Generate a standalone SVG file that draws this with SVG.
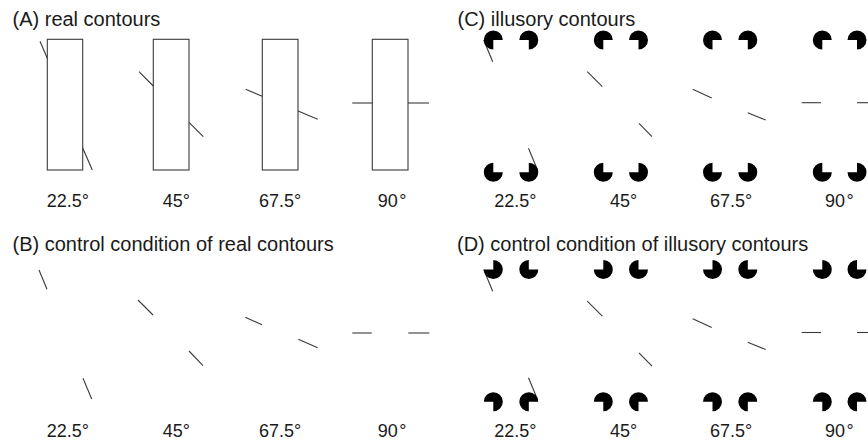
<svg xmlns="http://www.w3.org/2000/svg" xmlns:xlink="http://www.w3.org/1999/xlink" width="868" height="443" viewBox="0 0 868 443">
<style>
.t{font-family:"Liberation Sans",Arial,sans-serif;font-size:20px;fill:#1a1a1a}
.l{font-family:"Liberation Sans",Arial,sans-serif;font-size:18px;fill:#1a1a1a}
.ln{stroke:#3a3a3a;stroke-width:1.1;fill:none}
.rc{stroke:#3a3a3a;stroke-width:1.1;fill:#fff}
.pc{fill:#000}
</style>
<defs>
<path id="pac" class="pc" d="M0,0 L9.5,0 A9.5,9.5 0 1 0 0,9.5 Z"/>
</defs>
<rect width="868" height="443" fill="#fff"/>

<g id="titles">
<text class="t" x="12.5" y="25.5">(A) real contours</text>
<text class="t" x="12.5" y="250.5">(B) control condition of real contours</text>
<text class="t" x="457.5" y="25.5">(C) illusory contours</text>
<text class="t" x="457" y="250.5">(D) control condition of illusory contours</text>
</g>

<g id="panelA">
<g id="A-rects">
<rect class="rc" x="47.3" y="39.3" width="35.4" height="130.7"/>
<rect class="rc" x="153.3" y="39.3" width="35.7" height="130.7"/>
<rect class="rc" x="262.3" y="39.3" width="35.7" height="130.7"/>
<rect class="rc" x="372.3" y="39.3" width="35.7" height="130.7"/>
</g>
<g id="A-lines">
<line class="ln" x1="40" y1="41.3" x2="47.3" y2="58.3"/>
<line class="ln" x1="82.7" y1="148" x2="92.3" y2="170"/>
<line class="ln" x1="139" y1="71.7" x2="153.3" y2="86"/>
<line class="ln" x1="189" y1="122.3" x2="203.3" y2="136.7"/>
<line class="ln" x1="245.7" y1="89.3" x2="262.3" y2="96.3"/>
<line class="ln" x1="298" y1="111" x2="317.7" y2="119.3"/>
<line class="ln" x1="352.3" y1="103" x2="372.3" y2="103"/>
<line class="ln" x1="408" y1="103" x2="429" y2="103"/>
</g>
<g id="A-labels">
<text class="l" x="46.7" y="206.5">22.5°</text>
<text class="l" x="162.7" y="206.5">45°</text>
<text class="l" x="259" y="206.5">67.5°</text>
<text class="l" x="377.7" y="206.5">90<tspan dx="1.5">°</tspan></text>
</g>
</g>

<g id="panelB">
<g id="B-lines">
<line class="ln" x1="39" y1="270" x2="47" y2="289.3"/>
<line class="ln" x1="83" y1="378.3" x2="91.7" y2="399"/>
<line class="ln" x1="138" y1="300" x2="153" y2="315"/>
<line class="ln" x1="189" y1="351" x2="203" y2="365.7"/>
<line class="ln" x1="245.3" y1="317.3" x2="262" y2="324.7"/>
<line class="ln" x1="298.3" y1="339.3" x2="317.7" y2="347.7"/>
<line class="ln" x1="352.3" y1="333" x2="371.7" y2="333"/>
<line class="ln" x1="408.3" y1="333" x2="429.3" y2="333"/>
</g>
<g id="B-labels">
<text class="l" x="46.7" y="437">22.5°</text>
<text class="l" x="162.7" y="437">45°</text>
<text class="l" x="259" y="437">67.5°</text>
<text class="l" x="377.7" y="437">90<tspan dx="1.5">°</tspan></text>
</g>
</g>

<g id="panelC">
<g id="C-lines">
<line class="ln" x1="483.7" y1="40" x2="492.7" y2="61.7"/>
<line class="ln" x1="528.5" y1="148.3" x2="537.5" y2="170"/>
<line class="ln" x1="587.3" y1="71.7" x2="602.3" y2="86.7"/>
<line class="ln" x1="639" y1="123.3" x2="652" y2="136.7"/>
<line class="ln" x1="692.7" y1="89.3" x2="711.7" y2="98"/>
<line class="ln" x1="747.7" y1="112.7" x2="765.7" y2="120"/>
<line class="ln" x1="801.7" y1="102.7" x2="821" y2="102.7"/>
<line class="ln" x1="857" y1="102.7" x2="868" y2="102.7"/>
</g>
<g id="C-pacmen">
<use xlink:href="#pac" transform="translate(493.3,40)"/>
<use xlink:href="#pac" transform="translate(528.8,40) rotate(90)"/>
<use xlink:href="#pac" transform="translate(493.3,172.3) rotate(270)"/>
<use xlink:href="#pac" transform="translate(528.8,172.3) rotate(180)"/>
<use xlink:href="#pac" transform="translate(603.3,40)"/>
<use xlink:href="#pac" transform="translate(638.5,40) rotate(90)"/>
<use xlink:href="#pac" transform="translate(603.3,172.3) rotate(270)"/>
<use xlink:href="#pac" transform="translate(638.5,172.3) rotate(180)"/>
<use xlink:href="#pac" transform="translate(712.5,40)"/>
<use xlink:href="#pac" transform="translate(747.8,40) rotate(90)"/>
<use xlink:href="#pac" transform="translate(712.5,172.3) rotate(270)"/>
<use xlink:href="#pac" transform="translate(747.8,172.3) rotate(180)"/>
<use xlink:href="#pac" transform="translate(822.3,40)"/>
<use xlink:href="#pac" transform="translate(857,40) rotate(90)"/>
<use xlink:href="#pac" transform="translate(822.3,172.3) rotate(270)"/>
<use xlink:href="#pac" transform="translate(857,172.3) rotate(180)"/>
</g>
<g id="C-labels">
<text class="l" x="494.3" y="206.5">22.5°</text>
<text class="l" x="610" y="206.5">45°</text>
<text class="l" x="710" y="206.5">67.5°</text>
<text class="l" x="825" y="206.5">90<tspan dx="1.5">°</tspan></text>
</g>
</g>

<g id="panelD">
<g id="D-lines">
<line class="ln" x1="483.7" y1="269.5" x2="492.7" y2="291.2"/>
<line class="ln" x1="528.5" y1="377.8" x2="537.5" y2="399.5"/>
<line class="ln" x1="587.3" y1="301.2" x2="602.3" y2="316.2"/>
<line class="ln" x1="639" y1="352.8" x2="652" y2="366.2"/>
<line class="ln" x1="692.7" y1="318.8" x2="711.7" y2="327.5"/>
<line class="ln" x1="747.7" y1="342.2" x2="765.7" y2="349.5"/>
<line class="ln" x1="801.7" y1="332.5" x2="821" y2="332.5"/>
<line class="ln" x1="857" y1="332.5" x2="868" y2="332.5"/>
</g>
<g id="D-pacmen">
<use xlink:href="#pac" transform="translate(493.3,269.5) rotate(180)"/>
<use xlink:href="#pac" transform="translate(528.8,269.5) rotate(270)"/>
<use xlink:href="#pac" transform="translate(493.3,401.7) rotate(90)"/>
<use xlink:href="#pac" transform="translate(528.8,401.7)"/>
<use xlink:href="#pac" transform="translate(603.3,269.5) rotate(180)"/>
<use xlink:href="#pac" transform="translate(638.5,269.5) rotate(270)"/>
<use xlink:href="#pac" transform="translate(603.3,401.7) rotate(90)"/>
<use xlink:href="#pac" transform="translate(638.5,401.7)"/>
<use xlink:href="#pac" transform="translate(712.5,269.5) rotate(180)"/>
<use xlink:href="#pac" transform="translate(747.8,269.5) rotate(270)"/>
<use xlink:href="#pac" transform="translate(712.5,401.7) rotate(90)"/>
<use xlink:href="#pac" transform="translate(747.8,401.7)"/>
<use xlink:href="#pac" transform="translate(822.3,269.5) rotate(180)"/>
<use xlink:href="#pac" transform="translate(857,269.5) rotate(270)"/>
<use xlink:href="#pac" transform="translate(822.3,401.7) rotate(90)"/>
<use xlink:href="#pac" transform="translate(857,401.7)"/>
</g>
<g id="D-labels">
<text class="l" x="494.3" y="437">22.5°</text>
<text class="l" x="610" y="437">45°</text>
<text class="l" x="710" y="437">67.5°</text>
<text class="l" x="825" y="437">90<tspan dx="1.5">°</tspan></text>
</g>
</g>
</svg>
